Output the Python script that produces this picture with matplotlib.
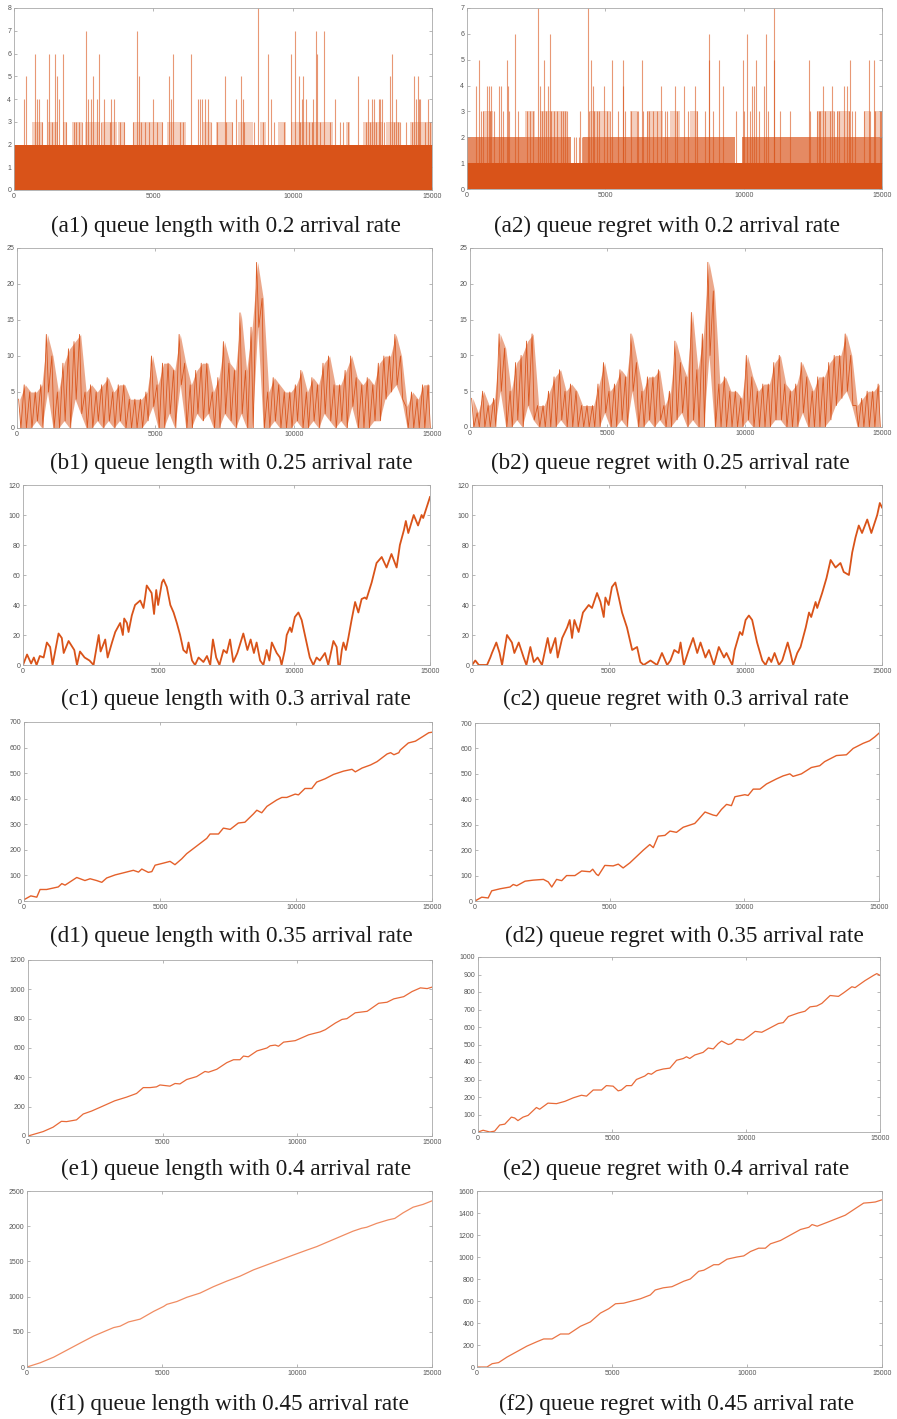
import numpy as np
import matplotlib
matplotlib.use('Agg')
import matplotlib.pyplot as plt

# ---------------- data ----------------
X_TICKS = [0, 5000, 10000, 15000]

# (a1) queue length, 0.2 arrival rate: dense band up to 2, spans where 3 is frequent, spikes
a1_band_level = 2
a1_l3_start = [633, 1231, 1769, 2067, 2545, 3143, 3740, 4278, 5473, 6788, 7266, 8043, 8819, 9476, 9954, 11926, 12524, 13360, 14197]
a1_l3_end = [1052, 1589, 1888, 2426, 3083, 3681, 3979, 5354, 6190, 7086, 7863, 8580, 9058, 9775, 11448, 12046, 13241, 13838, 15000]
a1_spike_x = [359, 430, 753, 813, 884, 992, 1171, 1267, 1350, 1470, 1554, 1601, 1745, 1864, 2151, 2223, 2318, 2426,
              2581, 2641, 2749, 2844, 2964, 3059, 3131, 3227, 3442, 3489, 3597, 3800, 3944, 4254, 4398, 4493, 4565,
              4684, 4828, 4971, 5115, 5306, 5569, 5640, 5688, 5951, 6047, 6334, 6596, 6668, 6764, 6859, 6955, 7074,
              7290, 7564, 7624, 7839, 7959, 8162, 8222, 8269, 8604, 8759, 8939, 9118, 9237, 9321, 9680, 9954, 10098,
              10217, 10277, 10325, 10373, 10492, 10588, 10683, 10731, 10827, 10863, 10994, 11126, 11329, 11520, 11687,
              11807, 11998, 12356, 12643, 12715, 12786, 12858, 12906, 12977, 13097, 13145, 13217, 13264, 13503, 13551,
              13623, 13719, 13778, 13862, 14077, 14292, 14364, 14436, 14483, 14531, 14579, 14746, 14842, 14937]
a1_spike_h = [4, 5, 6, 4, 4, 3, 4, 6, 3, 6, 5, 4, 6, 3, 3, 3, 3, 3,
              7, 4, 4, 5, 4, 6, 3, 4, 3, 4, 4, 3, 3, 3, 7, 5, 3,
              3, 3, 4, 3, 3, 5, 4, 6, 3, 3, 6, 4, 4, 4, 4, 4, 3,
              3, 5, 3, 3, 4, 5, 4, 3, 3, 8, 3, 6, 4, 3, 3, 6, 7,
              5, 3, 4, 5, 4, 3, 3, 4, 7, 6, 3, 7, 3, 4, 3,
              3, 3, 5, 3, 4, 3, 4, 4, 3, 4, 4, 4, 3, 5, 6,
              3, 4, 3, 3, 3, 3, 5, 4, 5, 4, 4, 3, 4, 3]

# (a2) queue regret, 0.2 arrival rate
a2_band_level = 1
a2_l2_start = [0, 4200, 9950]
a2_l2_end = [3750, 9700, 15000]
a2_l3_start = [579, 2088, 2631, 4442, 5890, 6494, 7339, 8063, 12649, 13373, 14339, 14701]
a2_l3_end = [941, 2450, 3597, 5166, 6132, 7097, 7700, 8365, 13253, 13856, 14580, 15000]
a2_spike_x = [338, 422, 519, 579, 724, 797, 821, 881, 966, 1159, 1243, 1304, 1448, 1485, 1521, 1726, 1847, 2173,
              2293, 2390, 2571, 2631, 2728, 2788, 2849, 2933, 3018, 3054, 3138, 3235, 3392, 3476, 3537, 3597, 3850,
              3950, 4050, 4080, 4150, 4381, 4418, 4466, 4538, 4587, 4683, 4780, 4949, 5069, 5166, 5226, 5468, 5625,
              5649, 5709, 5926, 6132, 6192, 6313, 6373, 6494, 6590, 6735, 6856, 7001, 7158, 7218, 7520, 7580, 7846,
              8002, 8244, 8304, 8606, 8739, 8763, 8908, 9125, 9270, 9728, 9958, 9994, 10115, 10211, 10308, 10356,
              10453, 10537, 10718, 10815, 10863, 11080, 11104, 11322, 11684, 12348, 12408, 12649, 12710, 12770,
              12867, 12951, 13132, 13192, 13253, 13373, 13434, 13615, 13736, 13796, 13832, 13917, 14037, 14339,
              14520, 14580, 14701, 14761, 14942, 14978]
a2_spike_h = [4, 5, 3, 3, 4, 4, 3, 4, 3, 4, 4, 3, 5, 4, 3, 6, 3, 3,
              3, 3, 7, 4, 3, 5, 3, 4, 6, 3, 3, 3, 3, 3, 3, 3, 2,
              2, 2, 3, 2, 7, 3, 5, 4, 3, 3, 3, 4, 3, 3, 5, 3, 5,
              4, 3, 3, 3, 3, 5, 3, 3, 3, 3, 3, 4, 3, 3, 4, 3, 4,
              3, 4, 3, 3, 6, 5, 3, 5, 4, 3, 5, 3, 6, 3, 4, 4,
              5, 3, 4, 6, 3, 5, 7, 3, 3, 5, 3, 3, 3, 3,
              4, 3, 3, 4, 3, 3, 3, 4, 4, 3, 5, 3, 3, 3,
              5, 3, 5, 3, 3, 3]

# (b) queue length / regret, 0.25 arrival rate: max and min per 200-step bin
b_bin = 200
b1_hi = [4, 6, 5, 5, 6, 13, 10, 5, 9, 11, 12, 13, 5, 6, 5, 6, 7, 5, 6, 6, 4, 4, 4, 5, 10,
         6, 9, 9, 8, 13, 9, 6, 8, 9, 9, 5, 7, 12, 9, 8, 16, 8, 14, 23, 18, 5, 7, 6, 5, 5,
         6, 8, 5, 7, 6, 9, 10, 6, 6, 8, 10, 7, 6, 7, 6, 9, 10, 10, 13, 10, 3, 5, 4, 6, 6]
b1_lo = [0, 0, 0, 1, 0, 5, 0, 0, 1, 0, 4, 2, 0, 0, 1, 0, 1, 0, 1, 0, 0, 0, 0, 1, 3,
         0, 0, 2, 0, 6, 0, 0, 2, 1, 2, 0, 0, 2, 1, 0, 2, 0, 0, 14, 0, 0, 1, 0, 0, 0,
         1, 0, 0, 1, 0, 2, 1, 0, 1, 0, 3, 0, 0, 0, 1, 1, 4, 5, 6, 4, 0, 0, 0, 0, 0]
b2_hi = [4, 2, 5, 3, 4, 13, 11, 5, 9, 10, 12, 13, 3, 3, 5, 7, 8, 5, 6, 5, 3, 3, 3, 6, 9,
         5, 6, 8, 7, 13, 9, 5, 7, 7, 8, 3, 5, 12, 9, 7, 16, 8, 13, 23, 19, 6, 7, 5, 5, 4,
         10, 7, 5, 6, 6, 9, 10, 6, 5, 6, 9, 7, 5, 7, 7, 9, 10, 10, 13, 10, 3, 4, 5, 5, 6]
b2_lo = [0, 0, 0, 0, 0, 5, 0, 0, 1, 0, 3, 1, 0, 0, 0, 0, 1, 0, 0, 0, 0, 0, 0, 0, 2,
         0, 0, 1, 0, 5, 0, 0, 1, 0, 1, 0, 0, 1, 2, 0, 1, 0, 0, 10, 0, 0, 0, 0, 0, 0,
         1, 0, 0, 0, 0, 1, 1, 0, 0, 0, 2, 0, 0, 0, 0, 1, 3, 4, 5, 3, 0, 0, 0, 0, 0]

# (c) 0.3 arrival rate
c1_x = [0, 150, 300, 400, 500, 620, 760, 880, 1000, 1090, 1310, 1430, 1500, 1680, 1890, 1990, 2100, 2270, 2450,
        2600, 2790, 2860, 3030, 3120, 3280, 3400, 3580, 3680, 3730, 3830, 3890, 4010, 4130, 4320, 4440, 4500,
        4560, 4740, 4830, 4910, 4980, 5120, 5180, 5300, 5430, 5550, 5670, 5790, 5910, 6030, 6100, 6230, 6340,
        6470, 6650, 6780, 6900, 7000, 7120, 7240, 7390, 7510, 7630, 7750, 7900, 8120, 8270, 8390, 8510, 8610,
        8740, 8860, 8980, 9080, 9170, 9350, 9470, 9530, 9650, 9720, 9840, 9900, 10020, 10150, 10270, 10450,
        10570, 10700, 10820, 10940, 11130, 11250, 11310, 11440, 11560, 11620, 11680, 11750, 11810, 11900,
        11990, 12110, 12240, 12360, 12480, 12600, 12660, 12850, 13030, 13220, 13400, 13580, 13770, 13890,
        14040, 14110, 14200, 14400, 14560, 14690, 14750, 15000]
c1_y = [0, 7, 1, 5, 0, 6, 5, 15, 12, 0, 21, 18, 8, 16, 10, 0, 9, 5, 3,
        0, 20, 9, 17, 5, 15, 22, 28, 20, 31, 28, 22, 33, 40, 43, 38, 45,
        53, 48, 34, 50, 40, 55, 57, 52, 40, 35, 28, 20, 10, 8, 15, 3, 0,
        5, 2, 6, 0, 17, 5, 0, 10, 8, 17, 2, 8, 21, 10, 17, 8, 15,
        3, 0, 10, 3, 15, 8, 5, 0, 10, 20, 25, 22, 32, 35, 30, 15,
        5, 0, 5, 3, 8, 0, 5, 16, 12, 0, 0, 10, 15, 10,
        18, 30, 42, 35, 44, 45, 44, 55, 68, 72, 65, 74, 65, 80,
        90, 96, 88, 100, 93, 100, 98, 112]
c2_x = [0, 120, 250, 550, 670, 730, 890, 1010, 1100, 1280, 1460, 1550, 1710, 1890, 1990, 2135, 2260, 2400, 2560,
        2770, 2870, 3050, 3135, 3300, 3480, 3575, 3660, 3745, 3900, 4060, 4270, 4390, 4575, 4700, 4820, 4880,
        5000, 5120, 5245, 5370, 5490, 5670, 5860, 6040, 6160, 6280, 6530, 6770, 6950, 7140, 7260, 7400, 7560,
        7630, 7750, 7930, 8090, 8240, 8360, 8540, 8670, 8850, 9030, 9220, 9310, 9520, 9610, 9800, 9890, 10010,
        10130, 10250, 10430, 10620, 10740, 10860, 10950, 11070, 11230, 11350, 11550, 11650, 11750, 11900,
        12020, 12210, 12330, 12410, 12570, 12630, 12810, 12970, 13120, 13300, 13480, 13600, 13790, 13910,
        14030, 14150, 14270, 14460, 14610, 14825, 14920, 15000]
c2_y = [0, 3, 0, 0, 5, 8, 15, 8, 0, 20, 15, 8, 15, 5, 0, 12, 2, 5, 0,
        18, 8, 18, 5, 18, 25, 30, 18, 30, 22, 35, 40, 38, 48, 42, 32, 45,
        40, 52, 55, 45, 35, 25, 10, 12, 2, 0, 3, 0, 8, 0, 3, 10, 8,
        15, 0, 10, 18, 8, 15, 5, 10, 0, 12, 5, 8, 0, 10, 22, 20, 30,
        33, 30, 15, 3, 0, 5, 2, 8, 0, 3, 15, 8, 0, 8,
        12, 25, 35, 32, 42, 38, 48, 58, 70, 65, 68, 62, 60, 75,
        85, 93, 88, 97, 88, 100, 108, 105]

# (d) 0.35 arrival rate
d1_x = [0, 250, 470, 590, 830, 1260, 1390, 1510, 1940, 2240, 2430, 2670, 2860, 3040, 3350, 3650, 4020, 4210,
        4330, 4570, 4700, 4820, 5120, 5370, 5550, 5800, 5980, 6350, 6720, 6840, 7150, 7330, 7580, 7880, 8120,
        8430, 8560, 8740, 8930, 9290, 9480, 9660, 9970, 10090, 10330, 10580, 10760, 11070, 11380, 11750,
        12060, 12180, 12430, 12740, 12980, 13350, 13480, 13600, 13780, 13830, 14130, 14390, 14690, 14880, 15000]
d1_y = [5, 20, 15, 45, 45, 55, 68, 62, 92, 80, 87, 80, 73, 90, 102, 110, 120, 113,
        125, 112, 115, 140, 148, 155, 142, 165, 185, 215, 245, 262, 262, 285, 280, 305, 308,
        340, 355, 345, 370, 395, 405, 405, 418, 415, 440, 440, 465, 478, 495, 508,
        515, 505, 520, 532, 545, 575, 580, 572, 580, 590, 618, 625, 645, 658, 660]
d2_x = [0, 250, 490, 620, 930, 1300, 1420, 1550, 1860, 2160, 2540, 2720, 2850, 3030, 3220, 3400, 3710, 3960,
        4270, 4370, 4510, 4580, 4820, 5130, 5320, 5500, 5750, 6250, 6490, 6620, 6800, 7050, 7240, 7480, 7730,
        8160, 8290, 8540, 8840, 8970, 9150, 9340, 9520, 9650, 10020, 10140, 10330, 10580, 10820, 11190,
        11440, 11690, 11810, 12120, 12490, 12800, 12980, 13420, 13790, 14040, 14410, 14650, 14840, 15000]
d2_y = [0, 15, 12, 40, 48, 55, 65, 60, 78, 82, 85, 75, 55, 85, 80, 100, 100, 118,
        115, 125, 105, 100, 140, 138, 145, 130, 150, 200, 222, 210, 255, 258, 275, 270, 290,
        305, 320, 350, 338, 335, 360, 380, 375, 410, 418, 415, 440, 440, 460, 480,
        492, 500, 490, 500, 525, 532, 548, 572, 575, 600, 620, 630, 645, 660]

# (e) 0.4 arrival rate
e1_x = [0, 560, 930, 1240, 1430, 1800, 2050, 2360, 2670, 3220, 3660, 4030, 4280, 4530, 4770, 4900, 5270, 5460,
        5640, 5890, 6260, 6570, 6700, 7010, 7380, 7630, 7870, 8000, 8180, 8500, 8870, 8990, 9180, 9300, 9490,
        9920, 10110, 10420, 10850, 11040, 11410, 11660, 11840, 12150, 12590, 12710, 13020, 13330, 13580,
        13950, 14260, 14570, 14820, 15000]
e1_y = [0, 30, 60, 100, 98, 110, 150, 170, 195, 240, 265, 290, 330, 330, 335, 348, 340, 358,
        355, 385, 405, 440, 435, 455, 500, 520, 520, 545, 540, 580, 600, 615, 620, 612, 640,
        650, 665, 690, 710, 725, 770, 795, 800, 840, 850, 865, 905, 912, 935,
        950, 985, 1010, 1005, 1015]
e2_x = [0, 190, 440, 620, 810, 1000, 1245, 1370, 1490, 1680, 1870, 2180, 2300, 2610, 2930, 3240, 3550, 3860,
        4050, 4300, 4610, 4790, 5040, 5230, 5350, 5540, 5730, 5910, 6225, 6350, 6470, 6660, 6910, 7160, 7410,
        7660, 7780, 7900, 8090, 8400, 8590, 8780, 8960, 9090, 9340, 9460, 9650, 9900, 10090, 10340, 10590,
        10840, 11210, 11390, 11580, 11950, 12200, 12390, 12640, 12830, 13140, 13450, 13640, 13950, 14070,
        14440, 14760, 14880, 15000]
e2_y = [0, 10, 0, 5, 40, 45, 85, 80, 65, 85, 95, 140, 130, 165, 162, 175, 195, 210,
        205, 240, 240, 265, 262, 235, 240, 265, 265, 300, 320, 335, 330, 350, 360, 365, 410,
        420, 430, 420, 440, 455, 480, 475, 505, 520, 500, 505, 530, 525, 545, 575, 570,
        590, 620, 625, 660, 680, 690, 715, 720, 735, 780, 775, 795, 830, 825,
        865, 895, 905, 895]

# (f) 0.45 arrival rate
f1_x = [0, 490, 990, 1480, 1970, 2470, 2960, 3210, 3450, 3760, 4190, 4690, 5060, 5180, 5550, 5920, 6410, 6900,
        7400, 7890, 8390, 8880, 9370, 9860, 10360, 10730, 11220, 11710, 12080, 12390, 12580, 12950, 13380,
        13620, 13930, 14300, 14670, 15000]
f1_y = [0, 60, 140, 240, 340, 440, 520, 560, 580, 640, 680, 790, 860, 890, 930, 990, 1050, 1140,
        1220, 1290, 1380, 1450, 1520, 1590, 1660, 1710, 1790, 1870, 1930, 1970, 1985, 2040, 2090,
        2110, 2190, 2270, 2310, 2360]
f2_x = [0, 370, 560, 800, 1110, 1480, 1850, 2220, 2470, 2780, 3090, 3400, 3830, 4200, 4570, 4880, 5130, 5430,
        5740, 6050, 6420, 6600, 6900, 7220, 7660, 7900, 8210, 8400, 8770, 8950, 9260, 9630, 9880, 10130,
        10430, 10680, 10870, 11240, 11610, 11980, 12290, 12410, 12600, 12970, 13330, 13640, 14010, 14320,
        14570, 14750, 15000]
f2_y = [0, 0, 30, 40, 90, 140, 190, 230, 255, 255, 300, 300, 370, 410, 490, 530, 575, 580,
        600, 620, 655, 700, 720, 730, 780, 800, 870, 880, 930, 930, 980, 1000, 1010, 1050,
        1080, 1080, 1120, 1150, 1200, 1250, 1270, 1295, 1280, 1315, 1350, 1380, 1440, 1490,
        1495, 1500, 1520]

titles = ["(a1) queue length with 0.2 arrival rate", "(a2) queue regret with 0.2 arrival rate",
          "(b1) queue length with 0.25 arrival rate", "(b2) queue regret with 0.25 arrival rate",
          "(c1) queue length with 0.3 arrival rate", "(c2) queue regret with 0.3 arrival rate",
          "(d1) queue length with 0.35 arrival rate", "(d2) queue regret with 0.35 arrival rate",
          "(e1) queue length with 0.4 arrival rate", "(e2) queue regret with 0.4 arrival rate",
          "(f1) queue length with 0.45 arrival rate", "(f2) queue regret with 0.45 arrival rate"]

# ---------------- layout ----------------
W, H = 897, 1419
fig = plt.figure(figsize=(W / 100, H / 100), dpi=100)
fig.patch.set_facecolor('white')

ORANGE = '#D95319'

# axes boxes in pixels: left, right, top, bottom
boxes = [(14, 432, 8, 190), (467, 882, 8, 189),
         (17, 432, 248, 428), (470, 882, 248, 427),
         (23, 430, 485, 665), (472, 882, 485, 665),
         (24, 432, 722, 901), (475, 879, 723, 901),
         (28, 432, 960, 1136), (478, 880, 957, 1132),
         (27, 432, 1191, 1367), (477, 882, 1191, 1367)]
title_pos = [(226, 232), (667, 232), (231, 469), (670, 469), (236, 705), (676, 705),
             (231, 942), (684, 942), (236, 1175), (676, 1175), (229, 1410), (677, 1410)]
ylims = [(8, 1), (7, 1), (25, 5), (25, 5), (120, 20), (120, 20),
         (700, 100), (700, 100), (1200, 200), (1000, 100), (2500, 500), (1600, 200)]

axes = []
for (l, r, t, b) in boxes:
    ax = fig.add_axes([l / W, 1 - b / H, (r - l) / W, (b - t) / H])
    axes.append(ax)


def style(ax, ymax, ystep):
    ax.set_xlim(0, 15000)
    ax.set_ylim(0, ymax)
    ax.set_xticks(X_TICKS)
    ax.set_xticklabels([str(v) for v in X_TICKS])
    yt = list(range(0, ymax + 1, ystep))
    ax.set_yticks(yt)
    ax.set_yticklabels([str(v) for v in yt])
    ax.tick_params(direction='in', length=2.5, width=0.5, colors='#9a9a9a',
                   labelcolor='#555555', labelsize=5, pad=2, top=True, right=True)
    for lab in ax.get_xticklabels() + ax.get_yticklabels():
        lab.set_family('Liberation Sans')
    for s in ax.spines.values():
        s.set_color('#a8a8a8')
        s.set_linewidth(0.6)


def draw_a(ax, level, l2s, l2e, l3s, l3e, sx, sh):
    ax.fill_between([0, 15000], 0, level, color=ORANGE, lw=0, zorder=2)
    if l2s is not None:
        for s, e in zip(l2s, l2e):
            ax.fill_between([s, e], 1, 2, color=ORANGE, alpha=0.68, lw=0, zorder=1)
        top = 2
    else:
        top = level
    for s, e in zip(l3s, l3e):
        ax.fill_between([s, e], top, top + 1, color=ORANGE, alpha=0.28, lw=0, zorder=1)
    ax.vlines(sx, 0, sh, color=ORANGE, lw=0.8, alpha=0.6, zorder=1)


def draw_b(ax, hi, lo):
    n = len(hi)
    centers = [k * b_bin + 0.5 * b_bin for k in range(n)]
    ax.fill_between(centers, lo, hi, color=ORANGE, alpha=0.5, lw=0)
    zx, zy = [], []
    for k in range(n):
        zx += [k * b_bin + 0.3 * b_bin, k * b_bin + 0.7 * b_bin]
        zy += [hi[k], lo[k]]
    ax.plot(zx, zy, color=ORANGE, lw=0.6, alpha=0.95)


draw_a(axes[0], a1_band_level, None, None, a1_l3_start, a1_l3_end, a1_spike_x, a1_spike_h)
draw_a(axes[1], a2_band_level, a2_l2_start, a2_l2_end, a2_l3_start, a2_l3_end, a2_spike_x, a2_spike_h)
draw_b(axes[2], b1_hi, b1_lo)
draw_b(axes[3], b2_hi, b2_lo)
axes[4].plot(c1_x, c1_y, color=ORANGE, lw=1.3)
axes[5].plot(c2_x, c2_y, color=ORANGE, lw=1.3)
axes[6].plot(d1_x, d1_y, color='#E4602A', lw=1.0)
axes[7].plot(d2_x, d2_y, color='#E4602A', lw=1.0)
axes[8].plot(e1_x, e1_y, color='#E86A38', lw=0.9)
axes[9].plot(e2_x, e2_y, color='#E86A38', lw=0.9)
axes[10].plot(f1_x, f1_y, color='#F08C62', lw=0.9)
axes[11].plot(f2_x, f2_y, color='#EA7444', lw=0.9)

for ax, (ym, ys) in zip(axes, ylims):
    style(ax, ym, ys)

for (cx, by), t in zip(title_pos, titles):
    fig.text(cx / W, 1 - by / H, t, ha='center', va='baseline', fontsize=16.7,
             family='Liberation Serif', color='#1a1a1a')

fig.savefig('out.png', dpi=100, facecolor='white')
